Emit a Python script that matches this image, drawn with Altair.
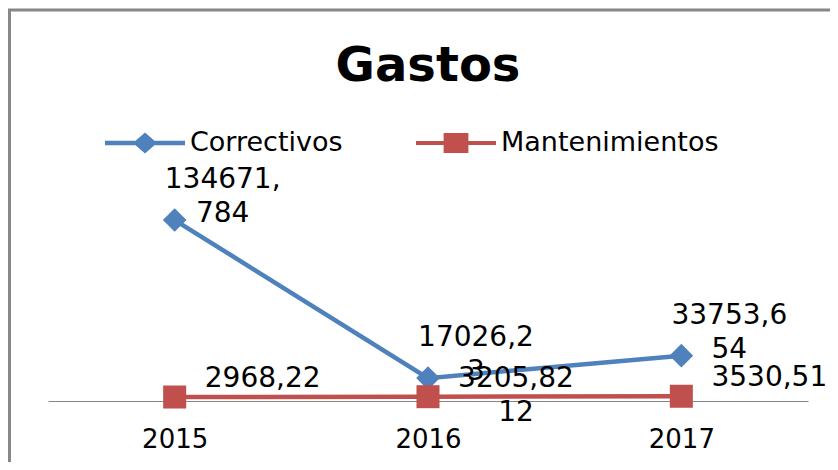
import altair as alt
import pandas as pd

years = ["2015", "2016", "2017"]
series_names = ["Correctivos", "Mantenimientos"]
correctivos = [134671.784, 17026.23, 33753.654]
mantenimientos = [2968.22, 3205.8212, 3530.51]
correctivos_labels = ["134671,\n784", "17026,2\n3", "33753,6\n54"]
mantenimientos_labels = ["2968,22", "3205,82\n12", "3530,51"]
colors = ["#4F81BD", "#C0504D"]

rows = []
for y, v, l in zip(years, correctivos, correctivos_labels):
    rows.append({"year": y, "series": series_names[0], "value": v, "label": l})
for y, v, l in zip(years, mantenimientos, mantenimientos_labels):
    rows.append({"year": y, "series": series_names[1], "value": v, "label": l})
df = pd.DataFrame(rows)

FONT = "DejaVu Sans"
PATH_C = "M-1,-0.055H1V0.055H-1Z M0,-0.26L0.3,0L0,0.26L-0.3,0Z"
PATH_M = "M-1,-0.05H1V0.05H-1Z M-0.31,-0.25H0.31V0.25H-0.31Z"

legend = alt.Legend(
    orient="none", legendX=57, legendY=-83, direction="horizontal", columns=2,
    title=None, labelFont=FONT, labelFontSize=27, labelColor="black",
    labelOffset=5, symbolSize=6400, symbolStrokeWidth=0, columnPadding=73,
    padding=0, labelLimit=400, symbolOpacity=1,
    symbolType=alt.ExprRef(expr=f"datum.value === 'Correctivos' ? '{PATH_C}' : '{PATH_M}'"),
    symbolFillColor=alt.ExprRef(expr=f"datum.value === 'Correctivos' ? '{colors[0]}' : '{colors[1]}'"),
)

x_enc = alt.X("year:O", scale=alt.Scale(type="point", padding=0.5),
              axis=alt.Axis(title=None, labelAngle=0, ticks=False, labelFont=FONT,
                            labelFontSize=26, labelColor="black", labelPadding=25,
                            domainColor="#868686", domainWidth=1.2, grid=False))
y_enc = alt.Y("value:Q", scale=alt.Scale(domain=[0, 160000], nice=False, zero=True), axis=None)
color_enc = alt.Color("series:N", scale=alt.Scale(domain=series_names, range=colors), legend=legend)

base = alt.Chart(df)
lines = base.mark_line(strokeWidth=4.5).encode(x=x_enc, y=y_enc, color=color_enc)
points_c = base.transform_filter(alt.datum.series == series_names[0]).mark_point(
    filled=True, size=560, opacity=1, shape="diamond", color=colors[0]).encode(x=x_enc, y=y_enc)
points_m = base.transform_filter(alt.datum.series == series_names[1]).mark_point(
    filled=True, size=530, opacity=1, shape="square", color=colors[1]).encode(x=x_enc, y=y_enc)
labels_c = base.transform_filter(alt.datum.series == series_names[0]).mark_text(
    font=FONT, fontSize=28, color="black", align="center", baseline="alphabetic",
    lineBreak="\n", lineHeight=34, dx=48, dy=-32,
).encode(x=x_enc, y=y_enc, text="label:N")
labels_m = base.transform_filter(alt.datum.series == series_names[1]).mark_text(
    font=FONT, fontSize=28, color="black", align="center", baseline="alphabetic",
    lineBreak="\n", lineHeight=34, dx=88, dy=-10,
).encode(x=x_enc, y=y_enc, text="label:N")

frame_data = alt.Data(values=[{"k": 1}])
border_top = alt.Chart(frame_data).mark_rule(color="#878787", strokeWidth=3).encode(
    x=alt.value(-40), x2=alt.value(790), y=alt.value(-176))
border_left = alt.Chart(frame_data).mark_rule(color="#878787", strokeWidth=3).encode(
    x=alt.value(-38.5), y=alt.value(-177), y2=alt.value(280))

chart = alt.layer(border_top, border_left, lines, points_c, points_m, labels_c, labels_m).properties(
    width=760, height=215,
    title=alt.TitleParams("Gastos", font=FONT, fontSize=48, fontWeight="bold", color="black",
                          anchor="middle", frame="group", offset=-121.5, baseline="alphabetic"),
    autosize=alt.AutoSizeParams(type="none"),
    padding={"left": 40, "top": 178, "right": 22, "bottom": 61},
).configure(background="white").configure_view(stroke="transparent", strokeWidth=0)

chart.save("out.html", embed_options={"renderer": "svg", "actions": False})
